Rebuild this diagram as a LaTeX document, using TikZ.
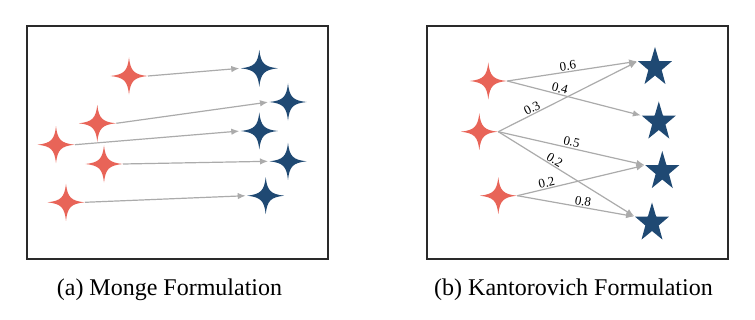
\documentclass[tikz,border=0pt]{standalone}
\usepackage{fontspec}
\setmainfont{Liberation Serif}
\usetikzlibrary{shapes.geometric,arrows.meta}
\definecolor{sred}{HTML}{E86458}
\definecolor{sblue}{HTML}{1F4973}
\definecolor{agray}{HTML}{ABABAB}
\definecolor{framec}{HTML}{2A2A2A}
\tikzset{
  sparkle/.style={rectangle, minimum size=38pt, inner sep=0pt, outer sep=0pt,
    path picture={\fill[#1, shift={(path picture bounding box.center)}]
      (0pt,18.5pt) .. controls (1.5pt,5pt) and (5pt,1.5pt) .. (18.5pt,0pt)
      .. controls (5pt,-1.5pt) and (1.5pt,-5pt) .. (0pt,-18.5pt)
      .. controls (-1.5pt,-5pt) and (-5pt,-1.5pt) .. (-18.5pt,0pt)
      .. controls (-5pt,1.5pt) and (-1.5pt,5pt) .. (0pt,18.5pt) -- cycle;}},
  bstar/.style={star, star points=5, star point ratio=2.55, minimum size=41pt,
    inner sep=0pt, outer sep=0pt, fill=sblue, draw=none, transform shape},
  flow/.style={draw=agray, line width=1.2pt, shorten >=1pt,
    -{Latex[length=8pt,width=6.5pt]}},
  wlabel/.style={sloped, above, inner sep=1pt, font=\fontsize{13}{14}\selectfont},
  panel/.style={draw=framec, line width=1.4pt},
  caption/.style={anchor=base, font=\fontsize{24}{28}\selectfont, inner sep=0pt}
}
\begin{document}
\begin{tikzpicture}[x=1pt, y=-1pt]
\useasboundingbox (0,0) rectangle (755,320);
% panels
\node[panel, rectangle, minimum width=301pt, minimum height=233pt, inner sep=0pt] (pa) at (177.5,142.5) {};
\node[panel, rectangle, minimum width=301pt, minimum height=233pt, inner sep=0pt] (pb) at (577.5,142.5) {};

% ---------- Monge ----------
\node[sparkle=sred] (r1) at (129,76) {};
\node[sparkle=sred] (r2) at (97.3,123.3) {};
\node[sparkle=sred] (r3) at (56,144.7) {};
\node[sparkle=sred] (r4) at (104,164) {};
\node[sparkle=sred] (r5) at (66,202.3) {};
\node[sparkle=sblue] (b1) at (259.3,68.3) {};
\node[sparkle=sblue] (b2) at (288,102) {};
\node[sparkle=sblue] (b3) at (259.3,131) {};
\node[sparkle=sblue] (b4) at (288,161.3) {};
\node[sparkle=sblue] (b5) at (265.7,195.7) {};
\draw[flow] (r1.east) -- (b1.west);
\draw[flow] (r2.east) -- (b2.west);
\draw[flow] (r3.east) -- (b3.west);
\draw[flow] (r4.east) -- (b4.west);
\draw[flow] (r5.east) -- (b5.west);

% ---------- Kantorovich ----------
\node[sparkle=sred] (k1) at (488.3,81) {};
\node[sparkle=sred] (k2) at (479.3,131.7) {};
\node[sparkle=sred] (k3) at (498.3,195.7) {};
\begin{scope}[shift={(655,67.5)}, xscale=0.87]\node[bstar] (s1) at (0,0) {};\end{scope}
\begin{scope}[shift={(658.8,122)}, xscale=0.87]\node[bstar] (s2) at (0,0) {};\end{scope}
\begin{scope}[shift={(662.3,171.5)}, xscale=0.87]\node[bstar] (s3) at (0,0) {};\end{scope}
\begin{scope}[shift={(652,223)}, xscale=0.87]\node[bstar] (s4) at (0,0) {};\end{scope}

\draw[flow] (k1.east) -- node[wlabel, pos=0.47] {0.6} (s1.outer point 2);
\draw[flow] (k1.east) -- node[wlabel, pos=0.38] {0.4} (s2.outer point 2);
\draw[flow] (k2.east) -- node[wlabel, pos=0.26] {0.3} (s1.outer point 2);
\draw[flow] (k2.east) -- node[wlabel, pos=0.49] {0.5} (s3.outer point 2);
\draw[flow] (k2.east) -- node[wlabel, pos=0.39] {0.2} (s4.outer point 2);
\draw[flow] (k3.east) -- node[wlabel, pos=0.24] {0.2} (s3.outer point 2);
\draw[flow] (k3.east) -- node[wlabel, pos=0.55] {0.8} (s4.outer point 2);

% captions
\node[caption] (ca) at (169.5,296) {(a) Monge Formulation};
\node[caption] (cb) at (573.5,296) {(b) Kantorovich Formulation};
\end{tikzpicture}
\end{document}
